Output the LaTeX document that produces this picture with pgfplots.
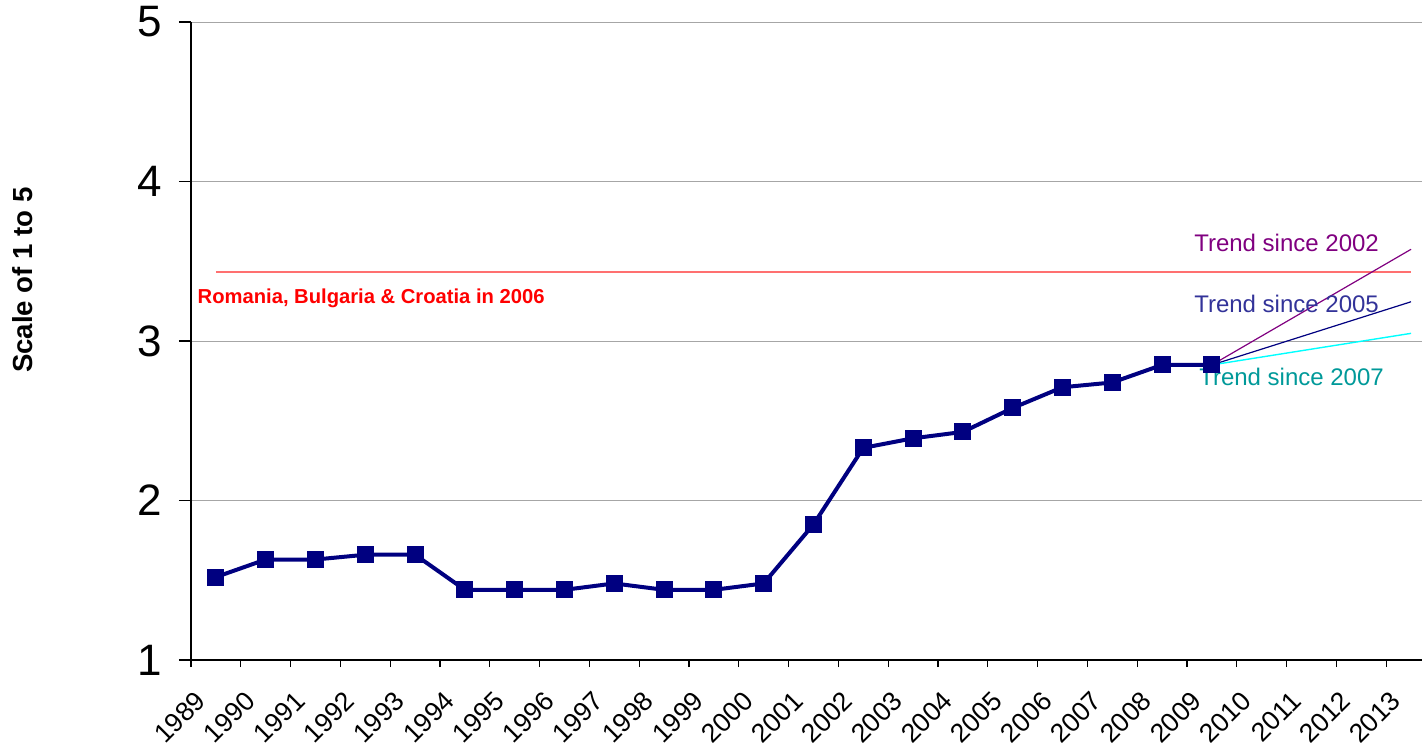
\documentclass[border=0pt]{standalone}
\usepackage{pgfplots}
\pgfplotsset{compat=1.18}
\usepackage{fontspec}
\setmainfont{Liberation Sans}
\definecolor{navy}{HTML}{000080}
\definecolor{tpurple}{HTML}{800080}
\definecolor{t05}{HTML}{333399}
\definecolor{t07}{HTML}{009999}
\definecolor{lred}{HTML}{FF7070}
\definecolor{tcyan}{HTML}{00FFFF}
\begin{document}
\begin{tikzpicture}
\begin{axis}[
  name=ax,
  scale only axis,
  width=615.5pt, height=319pt,
  xmin=-0.5, xmax=24.22,
  ymin=1, ymax=5,
  axis x line*=bottom, axis y line*=left,
  axis line style={black, line width=0.6pt},
  ytick={1,2,3,4,5},
  ymajorgrids, grid style={gray!70, line width=0.5pt},
  xtick={0,...,24},
  xticklabels={1989,1990,1991,1992,1993,1994,1995,1996,1997,1998,1999,2000,2001,2002,2003,2004,2005,2006,2007,2008,2009,2010,2011,2012,2013},
  minor xtick={-0.5,0.5,...,23.5},
  major x tick style={draw=none},
  minor x tick style={draw=black, line width=0.6pt},
  minor tick length=3.5pt,
  ytick style={black, line width=0.6pt},
  major tick length=6pt,
  tick align=outside,
  /pgf/number format/assume math mode=true,
  yticklabel style={font=\fontsize{22}{25}\selectfont, inner sep=0pt, xshift=-8.5pt},
  xticklabel style={font=\fontsize{13.3}{15}\selectfont, inner sep=0pt, xshift=-11pt, yshift=-8.5pt, rotate=45, anchor=north east},
  ylabel={Scale of 1 to 5},
  ylabel style={font=\fontsize{13.8}{16}\selectfont\bfseries, at={(axis description cs:-0.1365,0.5956)}, anchor=center},
  clip=false,
]
\addplot[lred, line width=0.8pt] coordinates {(0,3.434) (24,3.434)};
\addplot[tpurple, line width=0.6pt] coordinates {(20,2.85) (24,3.575)};
\addplot[navy, line width=0.6pt] coordinates {(20,2.85) (24,3.246)};
\addplot[tcyan, line width=0.7pt] coordinates {(20,2.85) (24,3.048)};
\addplot[navy, line width=2pt, mark=square*, mark size=3.25pt, mark options={solid, fill=navy}] coordinates {
(0,1.52) (1,1.63) (2,1.63) (3,1.66) (4,1.66) (5,1.44) (6,1.44) (7,1.44) (8,1.48) (9,1.44)
(10,1.44) (11,1.48) (12,1.85) (13,2.33) (14,2.39) (15,2.43) (16,2.58) (17,2.71) (18,2.74) (19,2.85) (20,2.85)};
\node[anchor=west, inner sep=0pt, text=red, font=\fontsize{10.1}{12}\selectfont\bfseries] at (axis cs:-0.373,3.27) {Romania, Bulgaria \& Croatia in 2006};
\node[text=tpurple, font=\fontsize{12}{14}\selectfont, inner sep=0pt] at (axis cs:21.5,3.614) {Trend since 2002};
\node[text=t05, font=\fontsize{12}{14}\selectfont, inner sep=0pt] at (axis cs:21.5,3.232) {Trend since 2005};
\node[text=t07, font=\fontsize{12}{14}\selectfont, inner sep=0pt] at (axis cs:21.6,2.774) {Trend since 2007};
\end{axis}
\pgfresetboundingbox
\path[use as bounding box] ([xshift=-95.5pt,yshift=-42pt]ax.south west) rectangle ([xshift=615.5pt,yshift=330pt]ax.south west);
\end{tikzpicture}
\end{document}
